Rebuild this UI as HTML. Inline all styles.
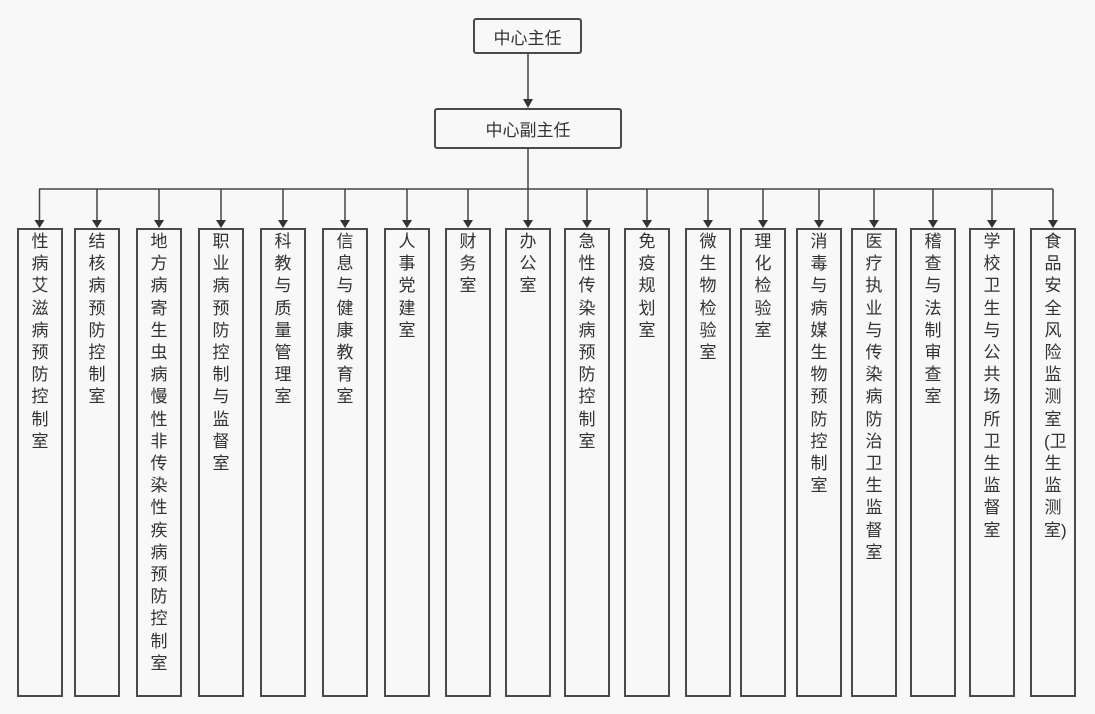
<!DOCTYPE html>
<html><head><meta charset="utf-8"><style>
html,body{margin:0;padding:0;background:#f8f8f8;width:1095px;height:714px;overflow:hidden;position:relative;font-family:"Liberation Sans","Noto Sans CJK SC",sans-serif;color:#333}
.b{position:absolute;box-sizing:border-box;border:2px solid #4a4a4a;background:#f8f8f8}
.v{top:228px;width:46px;height:469px;font-size:17px;line-height:22.2px;text-align:center;padding-top:1px;word-break:break-all}
.v span{display:block;width:18px;margin:0 auto}
.h{display:flex;align-items:center;justify-content:center;font-size:17px;border-radius:3px}
svg{position:absolute;left:0;top:0}
</style></head><body>
<svg width="1095" height="714">
<g stroke="#444" stroke-width="1.5" fill="none">
<line x1="528" y1="54" x2="528" y2="100"/>
<line x1="528" y1="149" x2="528" y2="189"/>
<line x1="39" y1="189" x2="1053" y2="189"/>
</g>
<g id="arr" stroke="#444" stroke-width="1.5">
</g>
<g fill="#333">
<polygon points="523,99 533,99 528,108"/>
</g>
<g stroke="#444" stroke-width="1.5">
<line x1="39.5" y1="189" x2="39.5" y2="221"/>
<line x1="97" y1="189" x2="97" y2="221"/>
<line x1="159" y1="189" x2="159" y2="221"/>
<line x1="221" y1="189" x2="221" y2="221"/>
<line x1="283" y1="189" x2="283" y2="221"/>
<line x1="345" y1="189" x2="345" y2="221"/>
<line x1="407" y1="189" x2="407" y2="221"/>
<line x1="468" y1="189" x2="468" y2="221"/>
<line x1="528" y1="189" x2="528" y2="221"/>
<line x1="587" y1="189" x2="587" y2="221"/>
<line x1="647" y1="189" x2="647" y2="221"/>
<line x1="708" y1="189" x2="708" y2="221"/>
<line x1="763" y1="189" x2="763" y2="221"/>
<line x1="819" y1="189" x2="819" y2="221"/>
<line x1="874" y1="189" x2="874" y2="221"/>
<line x1="933" y1="189" x2="933" y2="221"/>
<line x1="992" y1="189" x2="992" y2="221"/>
<line x1="1053" y1="189" x2="1053" y2="221"/>
</g>
<g fill="#333">
<polygon points="34.5,220 44.5,220 39.5,228"/>
<polygon points="92,220 102,220 97,228"/>
<polygon points="154,220 164,220 159,228"/>
<polygon points="216,220 226,220 221,228"/>
<polygon points="278,220 288,220 283,228"/>
<polygon points="340,220 350,220 345,228"/>
<polygon points="402,220 412,220 407,228"/>
<polygon points="463,220 473,220 468,228"/>
<polygon points="523,220 533,220 528,228"/>
<polygon points="582,220 592,220 587,228"/>
<polygon points="642,220 652,220 647,228"/>
<polygon points="703,220 713,220 708,228"/>
<polygon points="758,220 768,220 763,228"/>
<polygon points="814,220 824,220 819,228"/>
<polygon points="869,220 879,220 874,228"/>
<polygon points="928,220 938,220 933,228"/>
<polygon points="987,220 997,220 992,228"/>
<polygon points="1048,220 1058,220 1053,228"/>
</g></svg>
<div class="b h" style="left:473px;top:18px;width:109px;height:36px">中心主任</div>
<div class="b h" style="left:434px;top:108px;width:188px;height:41px">中心副主任</div>
<div class="b v" style="left:17px"><span>性病艾滋病预防控制室</span></div>
<div class="b v" style="left:74px"><span>结核病预防控制室</span></div>
<div class="b v" style="left:136px"><span>地方病寄生虫病慢性非传染性疾病预防控制室</span></div>
<div class="b v" style="left:198px"><span>职业病预防控制与监督室</span></div>
<div class="b v" style="left:260px"><span>科教与质量管理室</span></div>
<div class="b v" style="left:322px"><span>信息与健康教育室</span></div>
<div class="b v" style="left:384px"><span>人事党建室</span></div>
<div class="b v" style="left:445px"><span>财务室</span></div>
<div class="b v" style="left:505px"><span>办公室</span></div>
<div class="b v" style="left:564px"><span>急性传染病预防控制室</span></div>
<div class="b v" style="left:624px"><span>免疫规划室</span></div>
<div class="b v" style="left:685px"><span>微生物检验室</span></div>
<div class="b v" style="left:740px"><span>理化检验室</span></div>
<div class="b v" style="left:796px"><span>消毒与病媒生物预防控制室</span></div>
<div class="b v" style="left:851px"><span>医疗执业与传染病防治卫生监督室</span></div>
<div class="b v" style="left:910px"><span>稽查与法制审查室</span></div>
<div class="b v" style="left:969px"><span>学校卫生与公共场所卫生监督室</span></div>
<div class="b v" style="left:1030px"><span>食品安全风险监测室(卫生监测室)</span></div>
</body></html>
